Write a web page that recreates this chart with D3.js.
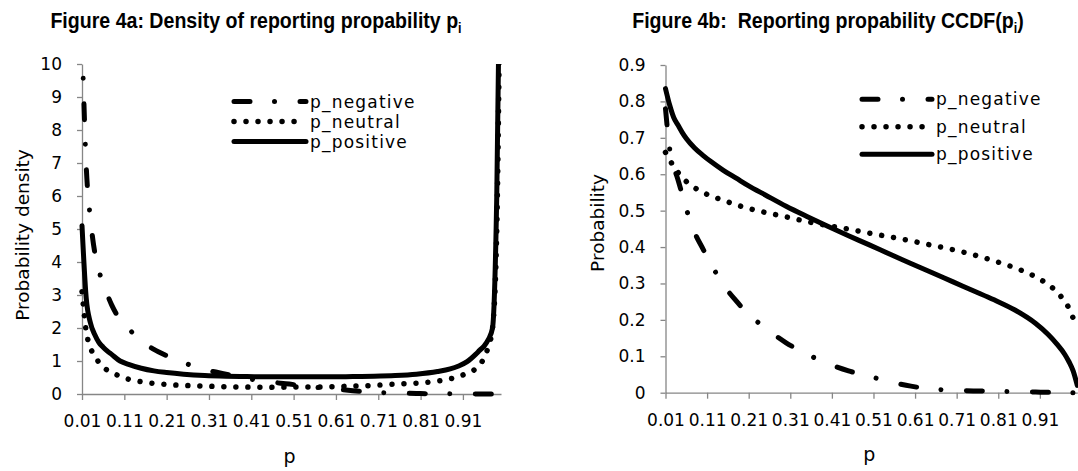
<!DOCTYPE html>
<html><head><meta charset="utf-8">
<script src="https://cdn.jsdelivr.net/npm/d3@7"></script>
<style>body{margin:0;background:#fff} svg{display:block}</style>
</head><body><svg id="c" width="1078" height="471"></svg>
<script>
// ---------- data ----------
const seriesNames = ["p_negative", "p_neutral", "p_positive"];
const xTickLabels = ["0.01","0.11","0.21","0.31","0.41","0.51","0.61","0.71","0.81","0.91"];
const densityYTickLabels = ["0","1","2","3","4","5","6","7","8","9","10"];
const ccdfYTickLabels = ["0","0.1","0.2","0.3","0.4","0.5","0.6","0.7","0.8","0.9"];

const densityP = [0.01,0.02,0.03,0.04,0.05,0.06,0.07,0.08,0.10,0.12,0.15,0.18,0.21,0.25,
  0.30,0.35,0.40,0.45,0.50,0.55,0.60,0.65,0.70,0.75,0.80,0.85,
  0.88,0.90,0.92,0.94,0.95,0.96,0.97,0.98,0.99,1.00];
const densityNegative = [10.8,6.9,5.3,4.3,3.75,3.3,3.0,2.7,2.25,1.98,1.6,1.35,1.16,0.95,
  0.74,0.6,0.47,0.37,0.3,0.22,0.16,0.1,0.05,0.03,0.015,0.008,
  0.005,0.004,0.003,0.002,0.001,0.001,0,0,0,0];
const densityNeutral = [3.1,1.9,1.4,1.15,0.96,0.82,0.72,0.65,0.54,0.45,0.37,0.32,0.29,0.26,
  0.24,0.22,0.21,0.2,0.21,0.21,0.22,0.24,0.26,0.3,0.33,0.39,
  0.46,0.53,0.63,0.76,0.88,1.1,1.43,2.0,5,16];
const densityPositive = [5.1,2.9,2.15,1.8,1.56,1.42,1.3,1.2,1.0,0.9,0.78,0.7,0.65,0.6,
  0.56,0.54,0.53,0.52,0.52,0.52,0.52,0.53,0.54,0.56,0.6,0.68,
  0.76,0.85,0.98,1.2,1.33,1.45,1.65,2.0,6,16];

const ccdfP = [0.01,0.02,0.03,0.04,0.05,0.06,0.08,0.10,0.12,0.15,0.18,0.21,0.25,
  0.30,0.35,0.40,0.45,0.50,0.55,0.60,0.65,0.70,0.75,0.80,0.85,0.90,
  0.93,0.95,0.97,0.98,0.99,1.00];
const ccdfNegative = [0.78,0.67,0.62,0.585,0.545,0.505,0.44,0.395,0.352,0.295,0.252,0.215,0.178,
  0.137,0.106,0.08,0.06,0.045,0.03,0.018,0.01,0.007,0.005,0.004,0.003,0.002,
  0.001,0.001,0,0,0,0];
const ccdfNeutral = [0.66,0.64,0.62,0.605,0.59,0.58,0.563,0.55,0.54,0.528,0.516,0.506,0.495,
  0.483,0.47,0.459,0.449,0.438,0.428,0.417,0.405,0.393,0.379,0.362,0.343,0.318,
  0.297,0.278,0.25,0.232,0.205,0.18];
const ccdfPositive = [0.835,0.79,0.755,0.735,0.715,0.698,0.672,0.652,0.634,0.61,0.589,0.568,0.543,
  0.512,0.484,0.457,0.431,0.406,0.38,0.355,0.33,0.305,0.28,0.255,0.227,0.19,
  0.16,0.135,0.105,0.085,0.06,0.02];

// ---------- drawing ----------
const svg = d3.select("#c");
const defs = svg.append("defs");
const FONT = "'DejaVu Sans', sans-serif";
const AXIS = "#868686";
const lineStyle = {
  p_negative: "16,24.5,0.01,25.5",
  p_neutral: "0.01,12",
  p_positive: null
};
const strokeW = {p_negative: 5, p_neutral: 5.5, p_positive: 5};

function applyStroke(sel, name) {
  sel.attr("fill", "none").attr("stroke", "#000")
    .attr("stroke-width", strokeW[name])
    .attr("stroke-linecap", "round").attr("stroke-linejoin", "round");
  if (lineStyle[name]) sel.attr("stroke-dasharray", lineStyle[name]);
}

function panel(cfg) {
  const x = d3.scaleLinear().domain([0.01, 1.00]).range([cfg.left, cfg.right]);
  const yTicks = cfg.yLabels.map(Number);
  const y = d3.scaleLinear().domain([0, d3.max(yTicks)]).range([cfg.bottom, cfg.top]);
  const g = svg.append("g");

  // axes
  const xa = g.append("g").attr("transform", `translate(0,${cfg.bottom})`)
    .call(d3.axisBottom(x).tickValues(xTickLabels.map(Number))
      .tickFormat((d, i) => xTickLabels[i]).tickSizeInner(6).tickSizeOuter(0).tickPadding(15));
  const ya = g.append("g").attr("transform", `translate(${cfg.left},0)`)
    .call(d3.axisLeft(y).tickValues(yTicks)
      .tickFormat((d, i) => cfg.yLabels[i]).tickSizeInner(5).tickSizeOuter(0).tickPadding(15));
  [xa, ya].forEach(a => {
    a.select(".domain").attr("stroke", AXIS).attr("stroke-width", 1.3);
    a.selectAll(".tick line").attr("stroke", AXIS).attr("stroke-width", 1.3);
    a.selectAll("text").attr("fill", "#000").style("font-family", FONT).style("font-size", "17px");
  });

  // clip
  defs.append("clipPath").attr("id", cfg.id)
    .append("rect").attr("x", cfg.left - 4).attr("y", cfg.top)
    .attr("width", cfg.right - cfg.left + 8).attr("height", cfg.bottom - cfg.top + 5);

  const line = d3.line().x(d => x(d[0])).y(d => y(d[1])).curve(d3.curveMonotoneX);
  const lg = g.append("g").attr("clip-path", `url(#${cfg.id})`);
  seriesNames.forEach((name, k) => {
    const pts = cfg.p.map((p, i) => [p, cfg.series[k][i]]);
    lg.append("path").attr("d", line(pts)).call(applyStroke, name);
  });

  // title (condensed bold)
  const t = g.append("text").attr("transform", `translate(${cfg.titleX},28) scale(0.89,1)`)
    .attr("text-anchor", "middle")
    .style("font-family", "'Liberation Sans Narrow','Arial Narrow','Liberation Sans',sans-serif")
    .style("font-weight", "bold").style("font-size", "22px").style("white-space", "pre")
    .attr("xml:space", "preserve");
  cfg.title.forEach(part => {
    const ts = t.append("tspan").text(part.s);
    if (part.sub) ts.attr("dy", 5).style("font-size", "14px");
    if (part.back) ts.attr("dy", -5);
  });

  // axis titles
  g.append("text").attr("transform", `translate(${cfg.yTitleX},${cfg.yTitleY}) rotate(-90)`)
    .attr("text-anchor", "middle").style("font-family", FONT).style("font-size", "18.5px")
    .text(cfg.yTitle);
  g.append("text").attr("x", (cfg.left + cfg.right) / 2 - 2).attr("y", cfg.xTitleY)
    .attr("text-anchor", "middle").style("font-family", FONT).style("font-size", "19px").text("p");

  // legend
  seriesNames.forEach((name, k) => {
    const ly = cfg.legendY[k];
    g.append("line").attr("x1", cfg.legendX0).attr("x2", cfg.legendX1)
      .attr("y1", ly).attr("y2", ly).call(applyStroke, name);
    g.append("text").attr("x", cfg.legendX1 + 4).attr("y", ly).attr("dy", "0.36em")
      .style("font-family", FONT).style("font-size", "17px").style("letter-spacing", "1.2px")
      .text(name);
  });
}

panel({
  id: "clipA", left: 82, right: 501, top: 64, bottom: 394,
  yLabels: densityYTickLabels, p: densityP,
  series: [densityNegative, densityNeutral, densityPositive],
  titleX: 256,
  title: [{s: "Figure 4a: Density of reporting propability p"}, {s: "i", sub: true}],
  yTitle: "Probability density", yTitleX: 29, yTitleY: 235, xTitleY: 463,
  legendX0: 234, legendX1: 306, legendY: [101.5, 121.5, 141.5]
});
panel({
  id: "clipB", left: 665.5, right: 1077.3, top: 65, bottom: 392.7,
  yLabels: ccdfYTickLabels, p: ccdfP,
  series: [ccdfNegative, ccdfNeutral, ccdfPositive],
  titleX: 828,
  title: [{s: "Figure 4b:  Reporting propability CCDF(p"}, {s: "i", sub: true}, {s: ")", back: true}],
  yTitle: "Probability", yTitleX: 604, yTitleY: 223, xTitleY: 461,
  legendX0: 862, legendX1: 932, legendY: [99.3, 126.7, 154.3]
});
</script>
</body></html>
